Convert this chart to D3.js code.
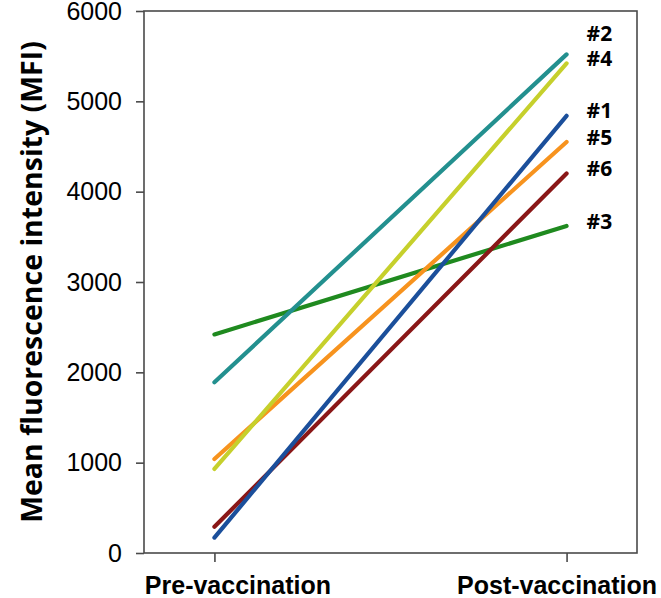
<!DOCTYPE html>
<html>
<head>
<meta charset="utf-8">
<script src="https://cdn.jsdelivr.net/npm/d3@7"></script>
<style>
  html, body { margin: 0; padding: 0; background: #fff; }
  svg { display: block; font-family: "Open Sans", "DejaVu Sans", sans-serif; }
</style>
</head>
<body>
<svg id="chart" width="661" height="598"></svg>
<script>
// ---- data ----
const timepoints = ["Pre-vaccination", "Post-vaccination"];
const subjects = ["#1", "#2", "#3", "#4", "#5", "#6"];
const preValues = [170, 1890, 2420, 930, 1040, 290];
const postValues = [4840, 5520, 3620, 5420, 4550, 4200];
const yTicks = [0, 1000, 2000, 3000, 4000, 5000, 6000];
const colors = {"#1": "#1b4f9b", "#2": "#23908f", "#3": "#1f8a1f", "#4": "#c6d02c", "#5": "#f7931e", "#6": "#8a1717"};
const drawOrder = ["#3", "#2", "#5", "#4", "#6", "#1"];

// ---- layout ----
const W = 661, H = 598;
const margin = {left: 144, top: 11, right: 24, bottom: 45};
const iw = W - margin.left - margin.right;
const ih = H - margin.top - margin.bottom;

const svg = d3.select("#chart");
const g = svg.append("g").attr("transform", `translate(${margin.left},${margin.top})`);

const x = d3.scalePoint().domain(timepoints).range([0, iw]).padding(0.2);
const y = d3.scaleLinear().domain([0, 6000]).range([ih, 0]);

const axisColor = "#4a4a4a";

// frame
g.append("rect").attr("x", 0).attr("y", 0).attr("width", iw).attr("height", ih)
  .attr("fill", "none").attr("stroke", axisColor).attr("stroke-width", 1.6);

// y axis
const yAxis = g.append("g")
  .call(d3.axisLeft(y).tickValues(yTicks).tickFormat(d3.format("d")).tickSize(8).tickSizeOuter(0).tickPadding(14));
yAxis.select(".domain").remove();
yAxis.selectAll(".tick line").attr("stroke", axisColor).attr("stroke-width", 1.6);
yAxis.selectAll(".tick text").attr("fill", "#000").style("font-size", "25px");

// x axis
const xAxis = g.append("g").attr("transform", `translate(0,${ih})`)
  .call(d3.axisBottom(x).tickSize(9).tickSizeOuter(0));
xAxis.select(".domain").remove();
xAxis.selectAll(".tick line").attr("stroke", axisColor).attr("stroke-width", 1.6);
const xLabelShift = {"Pre-vaccination": 23, "Post-vaccination": -10};
xAxis.selectAll(".tick text")
  .attr("fill", "#000").attr("y", 41).attr("dy", 0)
  .attr("dx", d => xLabelShift[d])
  .style("font-size", "25px").style("font-weight", "bold");

// y title
svg.append("text")
  .attr("transform", `translate(42,${margin.top + ih / 2}) rotate(-90)`)
  .attr("text-anchor", "middle")
  .style("font-size", "28.5px").style("font-weight", "bold")
  .attr("fill", "#000")
  .text("Mean fluorescence intensity (MFI)");

// lines
const rows = subjects.map((s, i) => ({id: s, values: [preValues[i], postValues[i]]}));
const line = d3.line().x((d, i) => x(timepoints[i])).y(d => y(d));
const byId = Object.fromEntries(rows.map(r => [r.id, r]));
g.selectAll(".subj").data(drawOrder.map(id => byId[id])).join("path")
  .attr("class", "subj")
  .attr("d", d => line(d.values))
  .attr("fill", "none")
  .attr("stroke", d => colors[d.id])
  .attr("stroke-width", 4.2)
  .attr("stroke-linecap", "round");

// end labels with simple collision avoidance
const sorted = rows.slice().sort((a, b) => a.values[1] - b.values[1]);
let prev = Infinity;
const labelPos = {};
sorted.forEach(r => {
  let ly = Math.min(y(r.values[1]) - 5, prev - 25);
  labelPos[r.id] = ly;
  prev = ly;
});
g.selectAll(".lbl").data(rows).join("text")
  .attr("class", "lbl")
  .attr("x", x(timepoints[1]) + 20)
  .attr("y", d => labelPos[d.id])
  .attr("dy", "0.36em")
  .style("font-size", "21px").style("font-weight", "bold")
  .attr("fill", "#000")
  .text(d => d.id);
</script>
</body>
</html>
